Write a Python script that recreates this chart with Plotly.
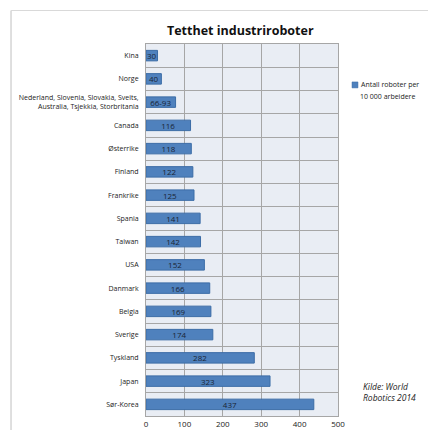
import plotly.graph_objects as go

categories = ["Kina", "Norge",
              "Nederland, Slovenia, Slovakia, Sveits,<br>Australia, Tsjekkia, Storbritania",
              "Canada", "Østerrike", "Finland", "Frankrike", "Spania", "Taiwan", "USA",
              "Danmark", "Belgia", "Sverige", "Tyskland", "Japan", "Sør-Korea"]
values = [30, 40, 77, 116, 118, 122, 125, 141, 142, 152, 166, 169, 174, 282, 323, 437]
labels = ["30", "40", "66-93", "116", "118", "122", "125", "141", "142", "152",
          "166", "169", "174", "282", "323", "437"]
x_ticks = [0, 100, 200, 300, 400, 500]
legend_lines = ["Antall roboter per", "10 000 arbeidere"]

FONT = "Open Sans, Liberation Sans, sans-serif"
BAR = "#4F81BD"

fig = go.Figure()
fig.add_trace(go.Bar(
    y=categories, x=values, orientation="h",
    name=" ".join(legend_lines), showlegend=False,
    marker=dict(color=BAR, line=dict(color="#3B6CA6", width=1)),
    text=labels, textposition="inside", insidetextanchor="middle", textangle=0,
    textfont=dict(size=8, color="#1A2535", family=FONT),
    constraintext="none",
    width=0.45,
))

fig.update_layout(
    width=428, height=430,
    margin=dict(l=146, r=90, t=44, b=14),
    paper_bgcolor="white", plot_bgcolor="#E9EDF4",
    font=dict(family=FONT, size=8, color="#222222"),
    uniformtext=dict(minsize=8, mode="show"),
)
fig.update_xaxes(range=[0, 500], tickvals=x_ticks, ticktext=[str(v) for v in x_ticks],
                 showgrid=True, gridcolor="#A6A6A6", gridwidth=1,
                 showline=True, linecolor="#A6A6A6", mirror=True,
                 ticks="", tickfont=dict(size=8), zeroline=False, automargin=False)
fig.update_yaxes(autorange="reversed", tickson="boundaries",
                 showgrid=True, gridcolor="#A6A6A6", gridwidth=1,
                 showline=True, linecolor="#A6A6A6", mirror=True,
                 ticks="", tickfont=dict(size=7), ticklabelstandoff=5, automargin=False)

fig.add_annotation(text="<b>Tetthet industriroboter</b>", xref="paper", yref="paper",
                   x=0.49, y=1.0, yshift=14, xanchor="center", yanchor="middle",
                   showarrow=False, font=dict(size=12.5, color="#111111", family=FONT))
# legend (drawn manually so the plot area keeps its size)
fig.add_shape(type="rect", xref="paper", yref="paper", x0=1.073, x1=1.104, y0=0.882, y1=0.898,
              fillcolor=BAR, line=dict(color="#3B6CA6", width=0.5))
fig.add_annotation(text=legend_lines[0], xref="paper", yref="paper",
                   x=1.109, y=0.890, xanchor="left", yanchor="middle",
                   showarrow=False, font=dict(size=7, color="#222222", family=FONT))
fig.add_annotation(text=legend_lines[1], xref="paper", yref="paper",
                   x=1.26, y=0.858, xanchor="center", yanchor="middle",
                   showarrow=False, font=dict(size=7, color="#222222", family=FONT))
fig.add_annotation(text="<i>Kilde: World<br>Robotics 2014</i>", xref="paper", yref="paper",
                   x=1.12, y=0.065, xanchor="left", yanchor="middle", align="left",
                   showarrow=False, font=dict(size=8.5, color="#222222", family=FONT))

# Excel chart-area border (left and top edges)
fig.add_shape(type="line", xref="paper", yref="paper", x0=-0.703, x1=-0.703, y0=-0.05, y1=1.09,
              line=dict(color="#BFBFBF", width=1))
fig.add_shape(type="line", xref="paper", yref="paper", x0=-0.703, x1=1.5, y0=1.09, y1=1.09,
              line=dict(color="#D9D9D9", width=1))

fig.write_html("out.html")
